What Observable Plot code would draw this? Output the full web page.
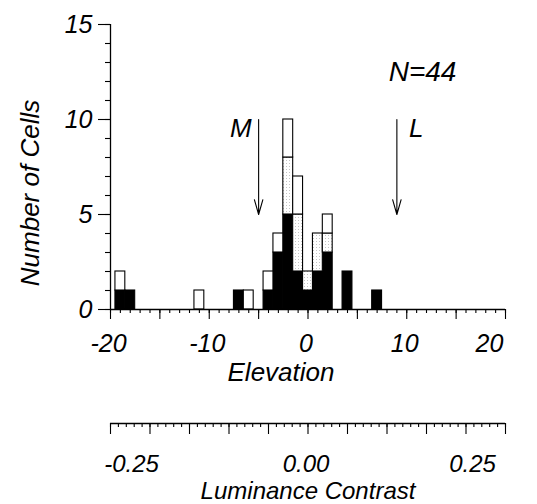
<!DOCTYPE html>
<html>
<head>
<meta charset="utf-8">
<script src="https://cdn.jsdelivr.net/npm/d3@7"></script>
<script src="https://cdn.jsdelivr.net/npm/@observablehq/plot@0.6"></script>
<style>
  html, body { margin: 0; background: #fff; overflow: hidden; }
  svg { display: block; }
</style>
</head>
<body>
<div id="chart"></div>
<script>
// ---- data ----
const bins          = [-19, -18, -11, -7, -6, -4, -3, -2, -1, 0, 1, 2, 4, 7];
const blackCounts   = [  1,   1,   0,  1,  0,  1,  3,  5,  2, 1, 2, 3, 2, 1];
const dottedCounts  = [  0,   0,   0,  0,  0,  0,  0,  3,  3, 1, 2, 1, 0, 0];
const whiteCounts   = [  1,   0,   1,  0,  1,  1,  1,  2,  2, 0, 0, 1, 0, 0];
const categories    = ["black", "dotted", "white"];
const elevationTicks = [-20, -10, 0, 10, 20];
const countTicks     = [0, 5, 10, 15];
const contrastTicks  = [-0.25, 0, 0.25];
const arrowLabels     = ["M", "L"];
const arrowElevations = [-5, 9];
const totalN = 44;

// ---- table for the library ----
const seriesCounts = [blackCounts, dottedCounts, whiteCounts];
const table = [];
categories.forEach((c, ci) => {
  bins.forEach((b, bi) => {
    const n = seriesCounts[ci][bi];
    if (n > 0) table.push({bin: b, category: c, count: n});
  });
});

const FONT = "'Liberation Sans', Arial, Helvetica, sans-serif";
const baseStyle = {fontFamily: FONT, fontStyle: "italic", fontSize: "25px", color: "black", background: "white"};
const noText = () => "";

const chart1 = Plot.plot({
  width: 537,
  height: 395,
  marginLeft: 110,
  marginRight: 32,
  marginTop: 24,
  marginBottom: 86,
  x: {domain: [-20, 20], label: null},
  y: {domain: [0, 15], label: null},
  color: {domain: categories, range: ["black", "url(#dots)", "white"]},
  style: baseStyle,
  marks: [
    Plot.rectY(table, {
      x1: d => d.bin - 0.5,
      x2: d => d.bin + 0.5,
      y: "count",
      fill: "category",
      stroke: "black",
      strokeWidth: 1.1
    }),
    // x axis: minor, major, labels
    Plot.axisX({ticks: d3.range(-20, 21, 1), tickSize: 4, tickFormat: noText, label: null, strokeWidth: 1.1}),
    Plot.axisX({ticks: d3.range(-20, 21, 5), tickSize: 10, tickFormat: noText, label: null, strokeWidth: 1.1}),
    Plot.axisX({ticks: elevationTicks.slice(0, -1), tickSize: 0, tickPadding: 25, tickFormat: d => String(d), label: null, dx: -2, fontSize: 25}),
    Plot.axisX({ticks: elevationTicks.slice(-1), tickSize: 0, tickPadding: 25, tickFormat: d => String(d), label: null, dx: -16, fontSize: 25}),
    // y axis: minor, major, labels
    Plot.axisY({ticks: d3.range(0, 16, 1), tickSize: 5, tickFormat: noText, label: null, strokeWidth: 1.1}),
    Plot.axisY({ticks: countTicks, tickSize: 12, tickFormat: noText, label: null, strokeWidth: 1.1}),
    Plot.axisY({ticks: countTicks, tickSize: 0, tickPadding: 18, tickFormat: d => String(d), label: null, fontSize: 25}),
    Plot.ruleY([0], {strokeWidth: 1.3}),
    Plot.ruleX([-20], {y1: 0, y2: 15, strokeWidth: 1.3}),
    // arrows
    Plot.arrow(arrowElevations, {
      x1: d => d, x2: d => d, y1: 10, y2: 5,
      headLength: 21, headAngle: 32, stroke: "black", strokeWidth: 1.1
    }),
    Plot.text([arrowLabels[0]], {x: arrowElevations[0], y: 9.5, dx: -7, textAnchor: "end", fontSize: 26}),
    Plot.text([arrowLabels[1]], {x: arrowElevations[1], y: 9.5, dx: 12, textAnchor: "start", fontSize: 26}),
    Plot.text([`N=${totalN}`], {x: 11.6, y: 12.5, fontSize: 28}),
    // titles
    Plot.text(["Elevation"], {frameAnchor: "bottom", textAnchor: "middle", lineAnchor: "middle", dx: -27, dy: 63, fontSize: 26}),
    Plot.text(["Number of Cells"], {frameAnchor: "left", textAnchor: "middle", lineAnchor: "middle", rotate: -90, dx: -80, dy: 26, fontSize: 26})
  ]
});

// dotted pattern fill
d3.select(chart1).insert("defs", ":first-child").html(
  '<pattern id="dots" width="3" height="3" patternUnits="userSpaceOnUse">' +
  '<rect width="3" height="3" fill="white"/>' +
  '<rect x="1" y="1" width="1" height="1" fill="#c4c4c4"/>' +
  '</pattern>'
);

const chart2 = Plot.plot({
  width: 537,
  height: 109,
  marginLeft: 110,
  marginRight: 32,
  marginTop: 28,
  marginBottom: 81,
  x: {domain: [-0.25, 0.25], label: null},
  y: {domain: [0, 1], label: null, axis: null},
  style: baseStyle,
  marks: [
    Plot.axisX({ticks: d3.range(-25, 26, 1).map(v => v / 100), tickSize: 4, tickFormat: noText, label: null, strokeWidth: 1.1}),
    Plot.axisX({ticks: d3.range(-25, 26, 5).map(v => v / 100), tickSize: 11, tickFormat: noText, label: null, strokeWidth: 1.1}),
    Plot.axisX({ticks: contrastTicks.slice(0, 1), tickSize: 0, tickPadding: 31, tickFormat: d => d.toFixed(2), label: null, dx: 21, fontSize: 24}),
    Plot.axisX({ticks: contrastTicks.slice(1, 2), tickSize: 0, tickPadding: 31, tickFormat: d => d.toFixed(2), label: null, dx: -2, fontSize: 24}),
    Plot.axisX({ticks: contrastTicks.slice(2), tickSize: 0, tickPadding: 31, tickFormat: d => d.toFixed(2), label: null, dx: -33, fontSize: 24}),
    Plot.ruleY([0], {strokeWidth: 1.3}),
    Plot.text(["Luminance Contrast"], {frameAnchor: "bottom", textAnchor: "middle", lineAnchor: "middle", dy: 68, fontSize: 24})
  ]
});

document.getElementById("chart").append(chart1, chart2);
</script>
</body>
</html>
